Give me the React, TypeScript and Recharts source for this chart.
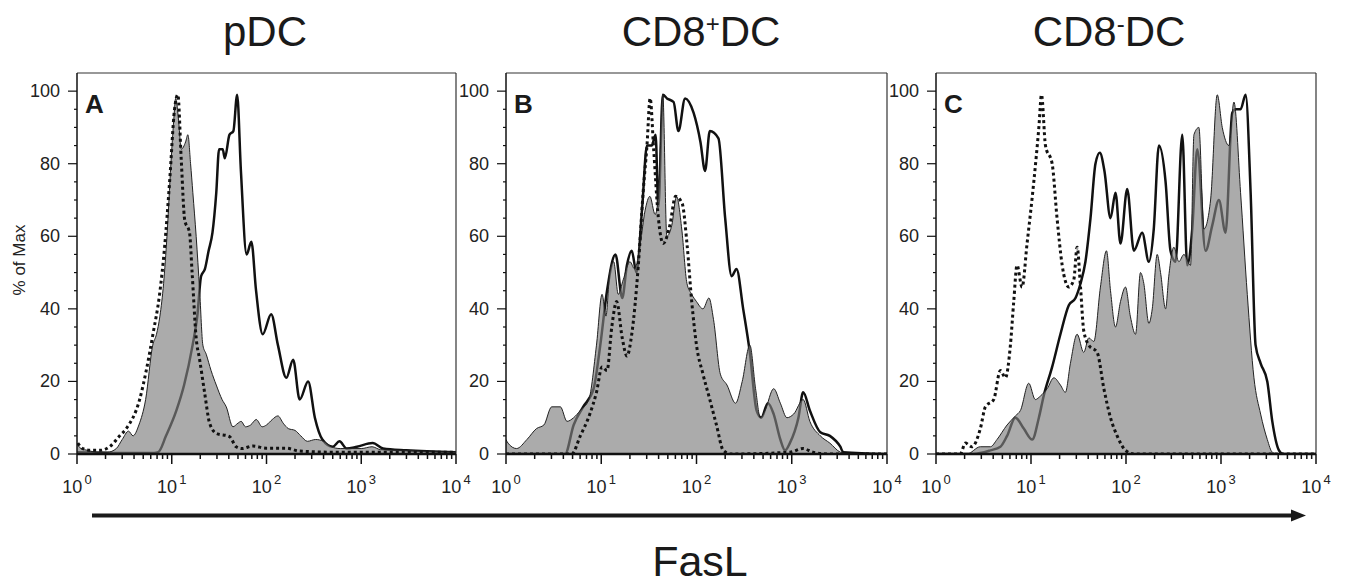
import React from "react";
import { ComposedChart, Area, Line, XAxis, YAxis, ReferenceLine } from "recharts";

// ---- tick values ----
const xTicks = [
  1, 2, 3, 4, 5, 6, 7, 8, 9,
  10, 20, 30, 40, 50, 60, 70, 80, 90,
  100, 200, 300, 400, 500, 600, 700, 800, 900,
  1000, 2000, 3000, 4000, 5000, 6000, 7000, 8000, 9000, 10000,
];
const yTicks = [0, 5, 10, 15, 20, 25, 30, 35, 40, 45, 50, 55, 60, 65, 70, 75, 80, 85, 90, 95, 100];
const titles = ["pDC", "CD8", "CD8"];
const panelLetters = ["A", "B", "C"];

// ---- panel A (pDC): [FasL intensity, % of max] ----
const aFill = [[1,3],[1.1,1.5],[1.3,1],[1.6,0.5],[2.1,0.5],[2.6,1.5],[3.0,4],[3.5,6.3],[3.9,5],[4.5,8],[5.3,15],[6.3,30],[6.9,33],[7.5,38],[8.2,47],[8.9,60],[9.8,80],[10.5,92],[11.0,98],[11.8,92],[12.6,84],[14.0,86],[14.8,88],[15.8,80],[16.7,72],[18.1,60],[19.7,45],[21.3,30],[23.1,27.5],[26,23],[29.5,19],[34,15],[37.6,13],[44.2,7.5],[50,8.5],[54,9],[60,7.5],[68,8],[78,9.5],[90,7.5],[100,8],[115,9.5],[132,10.5],[150,8.5],[170,7],[200,6.5],[230,5],[270,3.5],[330,4],[400,3.5],[480,2],[600,1.5],[800,1.5],[1000,1.5],[1300,2],[1600,1.2],[2500,1],[5000,0.7],[10000,0.5]];
const aSolid = [[1,0.5],[3,0.3],[6.5,0.3],[7.2,0.5],[8.7,5],[11.2,12],[13.5,19],[16.6,30],[18.6,38],[20.4,49],[22.4,51],[24.5,56],[26.9,61],[29.5,72],[31.6,84],[34.5,84],[36.3,81.5],[40.7,88],[44.7,89],[49.0,99],[53.7,78],[61.7,55],[69.2,58.5],[77.6,45],[91.2,33],[112,38.5],[132,30],[162,21],[191,26],[224,15],[275,20],[324,10],[389,4],[501,2],[589,3.5],[700,1.5],[900,2],[1318,3],[1700,1.5],[3000,1],[10000,0.5]];
const aDot = [[1.02,3],[1.15,1.5],[1.4,1],[1.73,1],[2.21,2],[2.82,5],[3.31,7],[4.58,15],[5.38,23],[6.33,33],[7.44,44],[8.4,57],[9.49,75],[10.7,95],[11.6,99],[12.6,81],[13.7,64.5],[15.4,61],[16.4,50],[18.1,32],[19.7,26],[22.2,17],[25.1,8.5],[29.5,5.7],[40.7,4.8],[47.9,2],[55,1.5],[71.8,2.2],[99,1.6],[161,1.6],[223,0.8],[500,0.5],[10000,0.5]];

// ---- panel B (CD8+ DC) ----
const bFill = [[1,4],[1.05,3],[1.29,1.5],[1.66,4],[2.09,7],[2.5,8],[3.02,13],[3.72,13],[4.37,9],[5.13,10],[6.03,12],[7.41,15],[8.91,30],[10.2,44],[11.2,38],[12.3,50],[13.5,53],[15.1,44],[17.0,48],[20.0,53],[22.4,51],[25.7,58],[28.8,67],[32.4,71],[36.8,66],[40,72],[44.3,99],[48.8,60],[55,63],[61.7,71],[70,62],[79.4,47],[89.1,44],[100,42],[117,40],[135,43],[151,37],[178,22],[209,19],[257,14],[302,20],[363,30],[417,18],[468,10],[525,12],[646,18],[759,14],[891,10],[1047,11],[1318,15],[1549,9],[1995,5],[2512,3],[3236,0.5],[4000,0],[10000,0]];
const bSolid = [[1,0],[4.17,0],[5.13,8],[6.46,13],[8.32,18],[9.77,30],[11.5,45],[14.1,55],[16.6,43],[18.6,52],[20.9,56],[23.4,50],[26.9,68],[30.2,85],[33.9,85],[37.2,88],[39.8,68],[44.3,99],[49,98],[57.5,97],[64.6,89],[75.9,98],[93.3,94],[110,86],[123,78],[138,89],[170,87],[200,65],[234,49],[263,51],[309,40],[363,28],[427,12],[479,10],[562,14],[646,11],[759,4],[851,1],[955,3],[1175,10],[1318,17],[1549,12],[1995,6],[2512,5],[3236,2],[3467,0.5],[10000,0]];
const bDot = [[1,0],[4.9,0],[6.03,5],[7.59,11],[8.91,17],[10.2,24],[11.5,23],[12.9,35],[14.5,42],[16.6,32],[18.6,27],[20.9,33],[24.5,52],[27.5,72],[30.2,85],[32.6,98],[35.5,84],[39.8,65],[44.7,58],[52.5,63],[60.3,71],[70.8,69],[79.4,58],[89.1,42],[100,30],[117,22],[138,15],[162,8],[191,1],[230,0],[955,0.5],[1318,1.5],[1660,0.5],[2500,0],[10000,0]];

// ---- panel C (CD8- DC) ----
const cFill = [[1,0],[2.12,0],[2.93,2],[3.74,2],[4.39,4],[5.6,8],[6.85,10.5],[7.74,12],[9.47,19.5],[11.1,15],[12.6,16],[14.8,18],[17.4,21],[20.4,19],[23,17],[26,25],[30.6,33],[35.9,28],[40.6,32],[45.8,31],[53.8,46],[62.3,56],[68.7,45],[77.5,35],[87.5,42],[98.8,46],[111,38],[126,33],[142,50],[154,47],[174,36],[189,40],[213,55],[231,50],[261,40],[282,49],[319,57],[360,53],[407,55],[478,52],[519,88],[585,90],[661,62],[777,70],[913,99],[1031,90],[1211,85],[1368,97],[1607,72],[1891,44],[2222,21],[2613,11],[3071,4],[3467,0.5],[4000,0],[10000,0]];
const cSolid = [[1,0],[2.49,0],[3.74,1],[4.76,2],[5.6,5],[6.85,10],[8.39,7],[10.3,4],[12.1,10],[13.6,16],[16.7,24],[20.4,33],[25,41],[29.4,43],[33.2,47],[37.4,53],[42.3,65],[47.7,80],[53,83],[59.3,78],[68.7,65],[77.5,72],[87.5,58],[103,73],[121,56],[148,61],[174,53],[196,62],[222,85],[261,75],[294,56],[332,53],[391,88],[441,52],[498,62],[562,84],[688,56],[809,63],[951,70],[1117,61],[1313,94],[1425,95],[1607,95],[1816,99],[2051,72],[2312,30],[2613,25],[3071,20],[3467,9],[4074,1],[4500,0],[10000,0]];
const cDot = [[1,0],[1.8,0],[2.04,3],[2.39,2],[2.93,7],[3.31,13],[4.05,15],[4.76,23],[5.38,21],[6.07,30],[6.58,42],[7.13,52],[8.05,46],[9.09,58],[10.7,75],[12.1,90],[12.9,99],[14.2,85],[16.7,80],[18.8,65],[21.3,52],[25,46],[28.2,48],[30.6,57],[33.2,46],[35.9,34],[40.6,30],[49.7,28],[58.5,18],[68.7,10],[80.7,5],[98.8,1],[121,0],[10000,0]];

const FONT = "'Liberation Sans', Arial, Helvetica, sans-serif";

type Pair = number[];
function buildTable(fill: Pair[], solid: Pair[], dot: Pair[]) {
  const m = new Map<number, any>();
  const put = (arr: Pair[], key: string) => {
    arr.forEach(([x, y]) => {
      const row = m.get(x) || { x };
      row[key] = y;
      m.set(x, row);
    });
  };
  put(fill, "fill");
  put(solid, "solid");
  put(dot, "dot");
  return Array.from(m.values()).sort((a, b) => a.x - b.x);
}

function XTick(props: any) {
  const { x, y, payload } = props;
  const v = payload.value;
  const exp = Math.round(Math.log10(v));
  const major = Math.abs(Math.pow(10, exp) - v) < 1e-6;
  return (
    <g>
      <line x1={x} x2={x} y1={y} y2={y + (major ? 10 : 5)} stroke="#111" strokeWidth={1.5} />
      {major && (
        <text x={x} y={y + 39} textAnchor="middle" fontSize={18} fill="#222" fontFamily={FONT}>
          <tspan>10</tspan>
          <tspan fontSize={13} dx={2} dy={-9}>{exp}</tspan>
        </text>
      )}
    </g>
  );
}

function YTick(props: any) {
  const { x, y, payload } = props;
  const v = payload.value;
  const major = v % 20 === 0;
  return (
    <g>
      <line x1={x - (major ? 9 : 3)} x2={x} y1={y} y2={y} stroke="#111" strokeWidth={1.2} />
      {major && (
        <text x={x - 17} y={y} dy={6} textAnchor="end" fontSize={18} fill="#222" fontFamily={FONT}>
          {v}
        </text>
      )}
    </g>
  );
}

const W = 490;
const H = 585;

function Panel({ left, marginLeft, marginRight, fill, solid, dot }: any) {
  const data = buildTable(fill, solid, dot);
  const margin = { top: 73, right: marginRight, bottom: 91, left: marginLeft };
  const xCommon = {
    dataKey: "x",
    type: "number" as const,
    scale: "log" as const,
    domain: [1, 10000],
    allowDataOverflow: true,
    ticks: xTicks,
    interval: 0,
    height: 40,
    tickLine: false,
    tickSize: 0,
    tickMargin: 0,
  };
  const yCommon = {
    type: "number" as const,
    domain: [0, 105],
    allowDataOverflow: true,
    ticks: yTicks,
    interval: 0,
    width: 60,
    tickLine: false,
    tickSize: 0,
    tickMargin: 0,
  };
  return (
    <>
      {/* bottom layer: solid line, seen through the translucent fill */}
      <div style={{ position: "absolute", left, top: 0, width: W, height: H }}>
        <ComposedChart width={W} height={H} data={data} margin={margin}>
          <XAxis {...xCommon} tick={false} axisLine={false} />
          <YAxis {...yCommon} tick={false} axisLine={false} />
          <Line
            type="monotone"
            dataKey="solid"
            stroke="#111"
            strokeWidth={2.5}
            dot={false}
            connectNulls
            isAnimationActive={false}
          />
        </ComposedChart>
      </div>
      {/* top layer: fill, dotted line, axes and frame */}
      <div style={{ position: "absolute", left, top: 0, width: W, height: H }}>
        <ComposedChart width={W} height={H} data={data} margin={margin}>
          <XAxis {...xCommon} tick={<XTick />} axisLine={{ stroke: "#111", strokeWidth: 2.5 }} />
          <YAxis {...yCommon} tick={<YTick />} axisLine={{ stroke: "#111", strokeWidth: 1.5 }} />
          <ReferenceLine y={105} stroke="#333" strokeWidth={1.2} />
          <ReferenceLine x={10000} stroke="#333" strokeWidth={1.2} />
          <Area
            type="monotone"
            dataKey="fill"
            stroke="#222"
            strokeWidth={1}
            fill="#808080"
            fillOpacity={0.66}
            connectNulls
            isAnimationActive={false}
          />
          <Line
            type="monotone"
            dataKey="dot"
            stroke="#111"
            strokeWidth={3}
            strokeDasharray="3 3"
            dot={false}
            connectNulls
            isAnimationActive={false}
          />
        </ComposedChart>
      </div>
    </>
  );
}

export default function App() {
  return (
    <div
      style={{
        position: "absolute",
        left: 0,
        top: 0,
        width: 1347,
        height: 585,
        background: "#fff",
        overflow: "hidden",
        fontFamily: FONT,
      }}
    >
      <Panel left={0} marginLeft={17} marginRight={W - 456} fill={aFill} solid={aSolid} dot={aDot} />
      <Panel left={430} marginLeft={16} marginRight={W - 457} fill={bFill} solid={bSolid} dot={bDot} />
      <Panel left={860} marginLeft={16} marginRight={W - 456} fill={cFill} solid={cSolid} dot={cDot} />
      <svg
        width={1347}
        height={585}
        style={{ position: "absolute", left: 0, top: 0, pointerEvents: "none" }}
        fontFamily={FONT}
      >
        <text x={265} y={46} textAnchor="middle" fontSize={42} fill="#1a1a1a">{titles[0]}</text>
        <text x={701} y={46} textAnchor="middle" fontSize={42} fill="#1a1a1a">
          {titles[1]}
          <tspan fontSize={24} dy={-14}>+</tspan>
          <tspan dy={14}>DC</tspan>
        </text>
        <text x={1109} y={46} textAnchor="middle" fontSize={42} fill="#1a1a1a">
          {titles[2]}
          <tspan fontSize={24} dy={-14}>-</tspan>
          <tspan dy={14}>DC</tspan>
        </text>
        <text x={85} y={113} fontSize={26} fontWeight="bold" fill="#1a1a1a">{panelLetters[0]}</text>
        <text x={514} y={113} fontSize={26} fontWeight="bold" fill="#1a1a1a">{panelLetters[1]}</text>
        <text x={944} y={113} fontSize={26} fontWeight="bold" fill="#1a1a1a">{panelLetters[2]}</text>
        <text transform="translate(25,260) rotate(-90)" textAnchor="middle" fontSize={17} fill="#222">% of Max</text>
        <line x1={92} x2={1294} y1={515.5} y2={515.5} stroke="#1a1a1a" strokeWidth={4} />
        <polygon points="1291,509.5 1306,515.5 1291,521.5" fill="#1a1a1a" />
        <text x={700} y={576} textAnchor="middle" fontSize={43} fill="#1a1a1a">FasL</text>
      </svg>
    </div>
  );
}
